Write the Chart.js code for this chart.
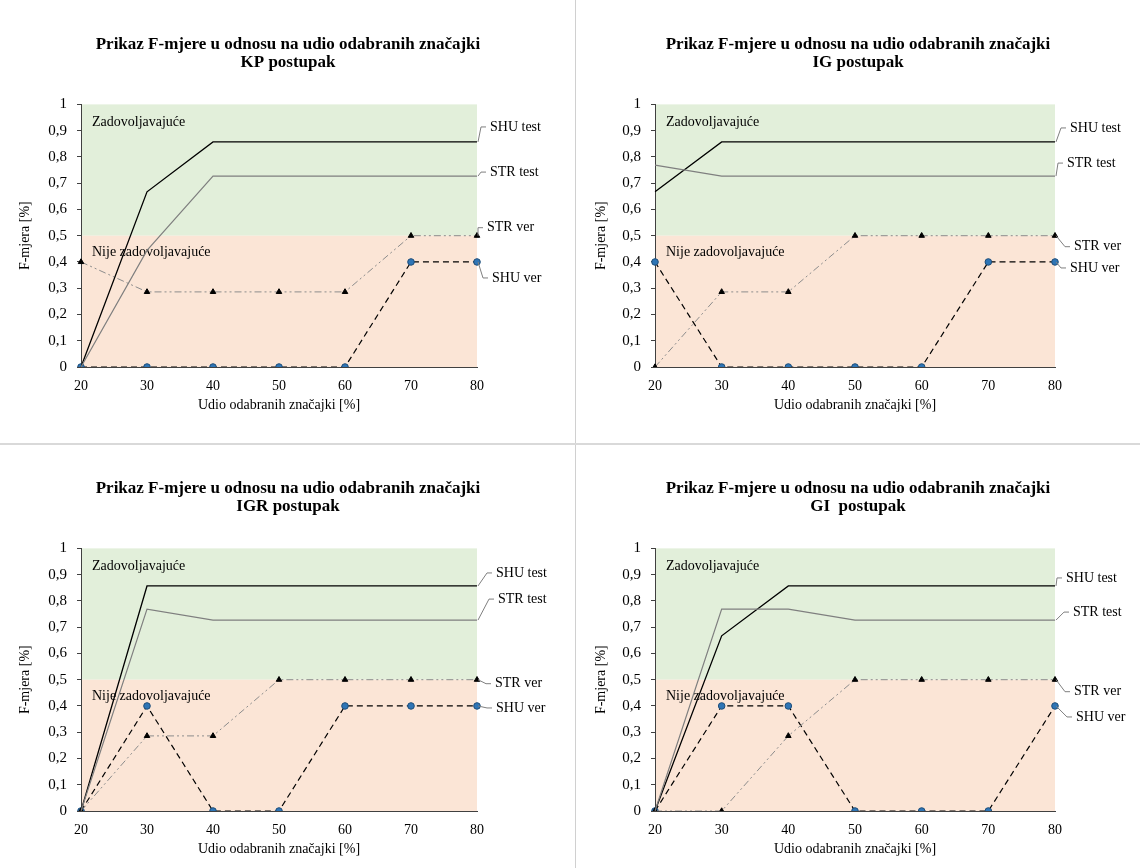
<!DOCTYPE html>
<html>
<head>
<meta charset="utf-8">
<script src="https://cdn.jsdelivr.net/npm/chart.js@4.4.1/dist/chart.umd.min.js"></script>
<style>
  body { margin: 0; background: #fff; }
  #page { position: relative; width: 1140px; height: 868px; overflow: hidden; }
  .box { position: absolute; }
  .vline { position: absolute; left: 575px; top: 0; width: 1px; height: 868px; background: #d0d0d0; }
  .hline { position: absolute; left: 0; top: 443px; width: 1140px; height: 2px; background: #d9d9d9; }
</style>
</head>
<body>
<div id="page">
  <div class="box" style="left:0;top:0;"><canvas id="kpChart" width="576" height="443"></canvas></div>
  <div class="box" style="left:576px;top:0;"><canvas id="igChart" width="564" height="443"></canvas></div>
  <div class="box" style="left:0;top:444px;"><canvas id="igrChart" width="576" height="424"></canvas></div>
  <div class="box" style="left:576px;top:444px;"><canvas id="giChart" width="564" height="424"></canvas></div>
  <div class="vline"></div>
  <div class="hline"></div>
</div>
<script>
// udio odabranih značajki [%]
const udio = ['20', '30', '40', '50', '60', '70', '80'];

// KP postupak
const kpShuTest = [0, 0.667, 0.857, 0.857, 0.857, 0.857, 0.857];
const kpStrTest = [0, 0.444, 0.727, 0.727, 0.727, 0.727, 0.727];
const kpStrVer  = [0.4, 0.286, 0.286, 0.286, 0.286, 0.5, 0.5];
const kpShuVer  = [0, 0, 0, 0, 0, 0.4, 0.4];

// IG postupak
const igShuTest = [0.667, 0.857, 0.857, 0.857, 0.857, 0.857, 0.857];
const igStrTest = [0.769, 0.727, 0.727, 0.727, 0.727, 0.727, 0.727];
const igStrVer  = [0, 0.286, 0.286, 0.5, 0.5, 0.5, 0.5];
const igShuVer  = [0.4, 0, 0, 0, 0, 0.4, 0.4];

// IGR postupak
const igrShuTest = [0, 0.857, 0.857, 0.857, 0.857, 0.857, 0.857];
const igrStrTest = [0, 0.769, 0.727, 0.727, 0.727, 0.727, 0.727];
const igrStrVer  = [0, 0.286, 0.286, 0.5, 0.5, 0.5, 0.5];
const igrShuVer  = [0, 0.4, 0, 0, 0.4, 0.4, 0.4];

// GI postupak
const giShuTest = [0, 0.667, 0.857, 0.857, 0.857, 0.857, 0.857];
const giStrTest = [0, 0.769, 0.769, 0.727, 0.727, 0.727, 0.727];
const giStrVer  = [0, 0, 0.286, 0.5, 0.5, 0.5, 0.5];
const giShuVer  = [0, 0.4, 0.4, 0, 0, 0, 0.4];

const FONT = 'Liberation Serif';

// zelena / narančasta zona
const zonePlugin = {
    id: 'zone',
    beforeDraw(chart) {
        const {ctx, chartArea: a, scales: {y}} = chart;
        const mid = y.getPixelForValue(0.5);
        ctx.save();
        ctx.fillStyle = '#e2efda';
        ctx.fillRect(a.left, a.top, a.right - a.left, mid - a.top);
        ctx.fillStyle = '#fbe5d6';
        ctx.fillRect(a.left, mid, a.right - a.left, a.bottom - mid);
        ctx.restore();
    },
    beforeDatasetsDraw(chart) {
        const {ctx, chartArea: a, scales: {y}} = chart;
        const mid = y.getPixelForValue(0.5);
        ctx.save();
        ctx.fillStyle = '#000';
        ctx.font = '14px "' + FONT + '"';
        ctx.textBaseline = 'middle';
        ctx.fillText('Zadovoljavajuće', a.left + 11, a.top + 18);
        ctx.fillText('Nije zadovoljavajuće', a.left + 11, mid + 17);
        ctx.restore();
    }
};

// oznake serija na kraju linija
const seriesLabels = {
    id: 'seriesLabels',
    afterDatasetsDraw(chart, args, opts) {
        const ctx = chart.ctx;
        chart.data.datasets.forEach((ds, i) => {
            const meta = chart.getDatasetMeta(i);
            const pt = meta.data[meta.data.length - 1];
            const off = opts.offsets[i];
            const lx = pt.x + off[0];
            const ly = pt.y + off[1];
            ctx.save();
            ctx.strokeStyle = '#7f7f7f';
            ctx.lineWidth = 1;
            ctx.beginPath();
            ctx.moveTo(pt.x + 1, pt.y);
            ctx.lineTo(lx - 9, ly);
            ctx.lineTo(lx - 4, ly);
            ctx.stroke();
            ctx.fillStyle = '#000';
            ctx.font = '14px "' + FONT + '"';
            ctx.textBaseline = 'middle';
            ctx.fillText(ds.label, lx, ly);
            ctx.restore();
        });
    }
};

function tickLabel(v) {
    const r = Math.round(v * 10) / 10;
    if (r === 0 || r === 1) return String(r);
    return r.toFixed(1).replace('.', ',');
}

function createChart(canvasId, postupak, shuTest, strTest, strVer, shuVer, offsets, yWidth, rightWidth, bottomPad) {
    const ctx = document.getElementById(canvasId).getContext('2d');
    const font = { family: FONT, size: 14 };
    new Chart(ctx, {
        type: 'line',
        data: {
            labels: udio,
            datasets: [
                { label: 'STR test', data: strTest, borderColor: '#7f7f7f', borderWidth: 1.2, pointRadius: 0 },
                { label: 'SHU test', data: shuTest, borderColor: '#000000', borderWidth: 1.3, pointRadius: 0 },
                {
                    label: 'STR ver', data: strVer, borderColor: '#8c8c8c', borderWidth: 1,
                    borderDash: [7, 3, 2, 3, 2, 3],
                    pointStyle: 'triangle', pointRadius: 3.2,
                    pointBackgroundColor: '#000', pointBorderColor: '#000', pointBorderWidth: 1
                },
                {
                    label: 'SHU ver', data: shuVer, borderColor: '#000000', borderWidth: 1.2,
                    borderDash: [6, 4],
                    pointStyle: 'circle', pointRadius: 3.3,
                    pointBackgroundColor: '#2e75b6', pointBorderColor: '#1f4e79', pointBorderWidth: 1
                }
            ]
        },
        options: {
            responsive: false,
            animation: false,
            layout: { padding: { left: 0, right: 0, top: 0, bottom: bottomPad } },
            plugins: {
                legend: { display: false },
                tooltip: { enabled: false },
                title: {
                    display: true,
                    text: ['Prikaz F-mjere u odnosu na udio odabranih značajki', postupak],
                    color: '#000',
                    font: { family: FONT, size: 17, weight: 'bold', lineHeight: 1.1 },
                    padding: { top: 35, bottom: 32 }
                },
                seriesLabels: { offsets: offsets }
            },
            scales: {
                x: {
                    offset: false,
                    grid: { drawOnChartArea: false, drawTicks: false },
                    border: { color: '#404040', width: 1 },
                    ticks: { color: '#000', font: font, padding: 11, maxRotation: 0, autoSkip: false },
                    title: {
                        display: true, text: 'Udio odabranih značajki [%]', color: '#000', font: font,
                        padding: { top: 0, bottom: 3 }
                    },
                    afterFit: s => { s.height = 50; }
                },
                y: {
                    min: 0,
                    max: 1,
                    ticks: { stepSize: 0.1, color: '#000', font: { family: FONT, size: 15 }, padding: 10, callback: tickLabel },
                    grid: { drawOnChartArea: false, tickLength: 4, color: '#404040' },
                    border: { color: '#404040', width: 1 },
                    title: {
                        display: true, text: 'F-mjera [%]', color: '#000', font: font,
                        padding: { top: 17, bottom: 0 }
                    },
                    afterFit: s => { s.width = yWidth; }
                },
                y2: {
                    type: 'linear',
                    position: 'right',
                    grid: { display: false },
                    ticks: { display: false },
                    border: { display: false },
                    afterFit: s => { s.width = rightWidth; }
                }
            }
        },
        plugins: [zonePlugin, seriesLabels]
    });
}

createChart('kpChart', 'KP postupak', kpShuTest, kpStrTest, kpStrVer, kpShuVer,
    [[13, -4], [13, -15], [10, -8], [15, 16]], 81, 99, 26);
createChart('igChart', 'IG postupak', igShuTest, igStrTest, igStrVer, igShuVer,
    [[12, -13], [15, -14], [19, 11], [15, 6]], 79, 85, 26);
createChart('igrChart', 'IGR postupak', igrShuTest, igrStrTest, igrStrVer, igrShuVer,
    [[21, -21], [19, -13], [18, 4], [19, 2]], 81, 99, 7);
createChart('giChart', 'GI  postupak', giShuTest, giStrTest, giStrVer, giShuVer,
    [[18, -8], [11, -8], [19, 12], [21, 11]], 79, 85, 7);
</script>
</body>
</html>
